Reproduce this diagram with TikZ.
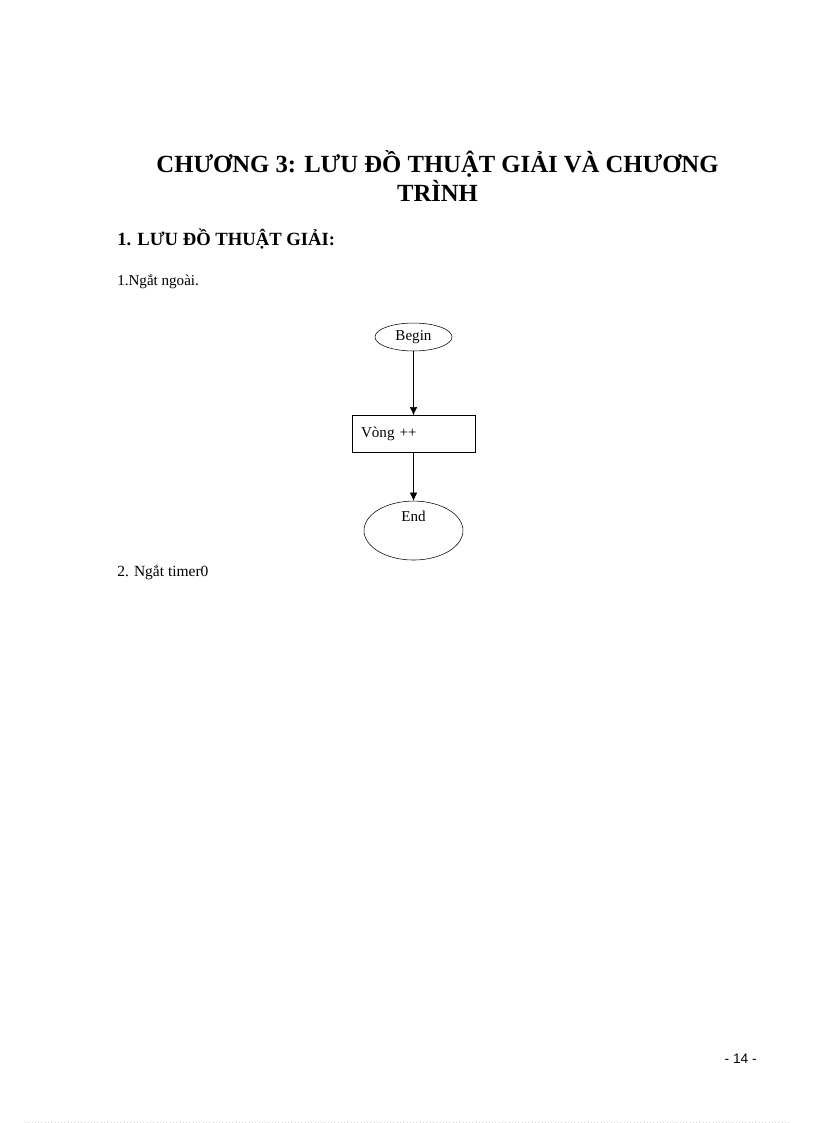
\documentclass[tikz,border=0pt]{standalone}
\usepackage{fontspec}
\setmainfont{Liberation Serif}
\newfontfamily\pagefont{Liberation Sans}
\usetikzlibrary{positioning,shapes.geometric,arrows.meta}

\begin{document}
\begin{tikzpicture}[x=0.7295pt, y=-0.7295pt, node distance={15mm},
	main/.style = {draw, ellipse, inner sep=0pt, font=\fontsize{11}{13}\selectfont},
	box/.style = {draw, rectangle, minimum width=89.7pt, minimum height=27pt, text width=76.5pt, inner xsep=6.6pt, align=left, font=\fontsize{11}{13}\selectfont},
	txt/.style = {anchor=base west, inner sep=0pt, font=\fontsize{11}{13}\selectfont},
	arr/.style = {-{Latex[length=6pt,width=5.5pt]}}]
		\useasboundingbox (0,0) rectangle (816,1123);
			\node[anchor=base, inner sep=0pt, align=center, font=\bfseries\fontsize{18}{20.5}\selectfont] (title) at (437.5,201) {CHƯƠNG 3: LƯU ĐỒ THUẬT GIẢI VÀ CHƯƠNG\\TRÌNH};
			\node[txt, font=\bfseries\fontsize{13.6}{15}\selectfont] (head) at (117,245) {1. LƯU ĐỒ THUẬT GIẢI:};
			\node[txt] (sub1) at (117,285) {1.Ngắt ngoài.};
			\node[main, minimum width=56.2pt, minimum height=20.4pt] (1) at (413.5,337) {Begin};
			\node[box] (2) [below=46.7pt of 1] {Vòng ++};
			\node[main, minimum width=72.2pt, minimum height=43pt, text depth=21pt] (3) [below=35pt of 2] {End};
			\draw[arr] (1) -- (2);
			\draw[arr] (2) -- (3);
			\node[txt, font=\fontsize{11.3}{13}\selectfont] (sub2) at (117,576) {2. Ngắt timer0};
			\node[anchor=base east, inner sep=0pt, font=\pagefont\fontsize{10}{12}\selectfont] (page) at (757,1063) {- 14 -};
			\draw[gray!35, dotted] (25,1122) -- (790,1122);
		\end{tikzpicture}
\end{document}
